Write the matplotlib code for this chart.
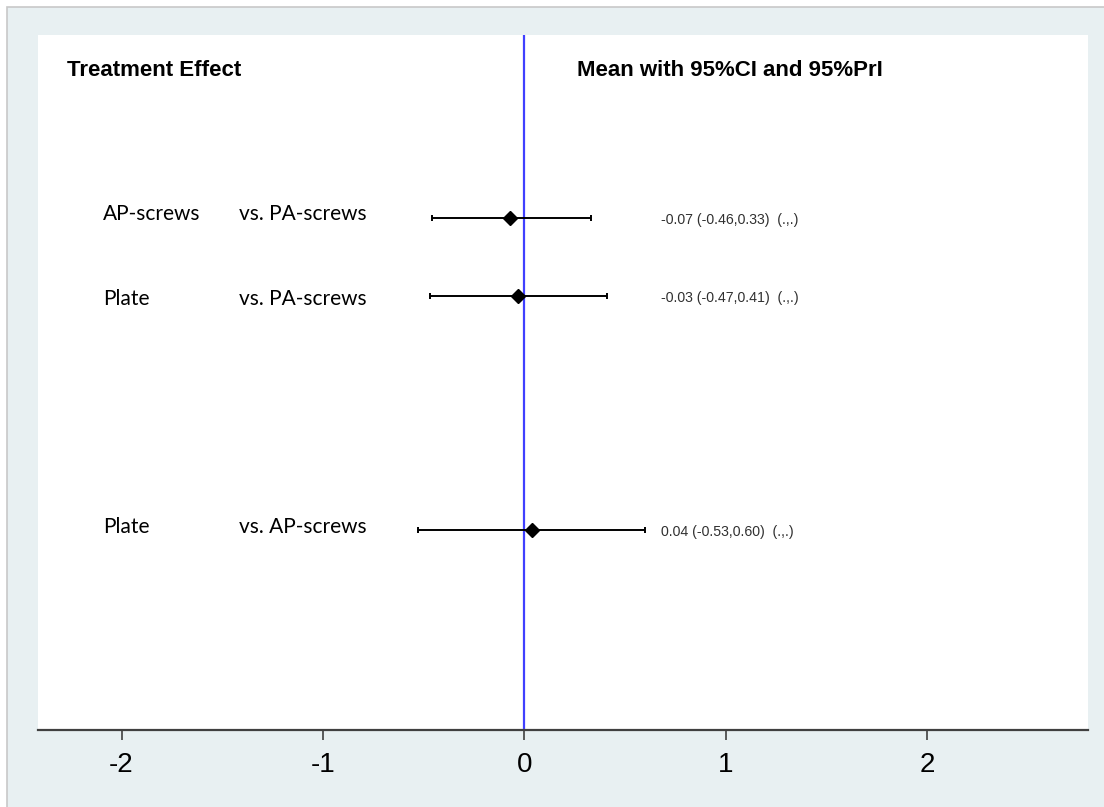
import matplotlib.pyplot as plt
from matplotlib.patches import Rectangle

# comparisons (treatment vs. reference) with mean and 95% CI
treatments = ['AP-screws', 'Plate', 'Plate']
references = ['vs. PA-screws', 'vs. PA-screws', 'vs. AP-screws']
means = [-0.07, -0.03, 0.04]
ci_low = [-0.46, -0.47, -0.53]
ci_high = [0.33, 0.41, 0.60]
rows = [1, 2, 5]
xticks = [-2, -1, 0, 1, 2]

fig = plt.figure(figsize=(11.04, 8.07), dpi=100)
fig.patch.set_facecolor('white')

# light panel behind the plot with a gray border on top/left
panel = Rectangle((7 / 1104, -0.1), 1.2, 1.1 - 7 / 807, transform=fig.transFigure,
                  facecolor='#e8f0f2', edgecolor='#c8c8c8', linewidth=1.2, zorder=-5)
fig.patches.append(panel)

ax = fig.add_axes([38 / 1104, 1 - 730 / 807, (1088 - 38) / 1104, (730 - 35) / 807])
ax.set_zorder(2)
ax.set_facecolor('white')
ax.set_xlim(-2.415, 2.80)
ax.set_ylim(7.56, -1.35)

for s in ['top', 'right', 'left']:
    ax.spines[s].set_visible(False)
ax.spines['bottom'].set_color('#404040')
ax.spines['bottom'].set_linewidth(1.6)
ax.set_yticks([])
ax.set_xticks(xticks)
ax.set_xticklabels([str(t) for t in xticks], fontsize=20, family='Liberation Sans')
ax.tick_params(axis='x', direction='out', length=7, width=1.2, color='#404040', pad=9)

# null line
ax.axvline(0, color='#4040ff', linewidth=1.6, zorder=1)

# estimates with CI
ax.errorbar(means, rows,
            xerr=[[m - lo for m, lo in zip(means, ci_low)],
                  [hi - m for m, hi in zip(means, ci_high)]],
            fmt='D', color='black', markersize=7, elinewidth=1.4,
            capsize=2.5, capthick=1.4, zorder=3)

label_font = 'Lato'
label_shift = [-0.06, 0.03, -0.04]
for r, d, t, ref, m, lo, hi in zip(rows, label_shift, treatments, references,
                                   means, ci_low, ci_high):
    ax.text(-2.09, r + d, t, fontsize=15, family=label_font, ha='left', va='center')
    ax.text(-1.415, r + d, ref, fontsize=15, family=label_font, ha='left', va='center')
    ax.text(0.68, r + 0.02, f'{m:.2f} ({lo:.2f},{hi:.2f})  (.,.)', fontsize=10.2,
            family='Liberation Sans', color='#303030', ha='left', va='center')

# column headers
ax.text(-2.27, -0.9, 'Treatment Effect', fontsize=16, fontweight='bold',
        family='Liberation Sans', ha='left', va='center')
ax.text(0.26, -0.9, 'Mean with 95%CI and 95%PrI', fontsize=16, fontweight='bold',
        family='Liberation Sans', ha='left', va='center')

plt.savefig('out.png', dpi=100)
